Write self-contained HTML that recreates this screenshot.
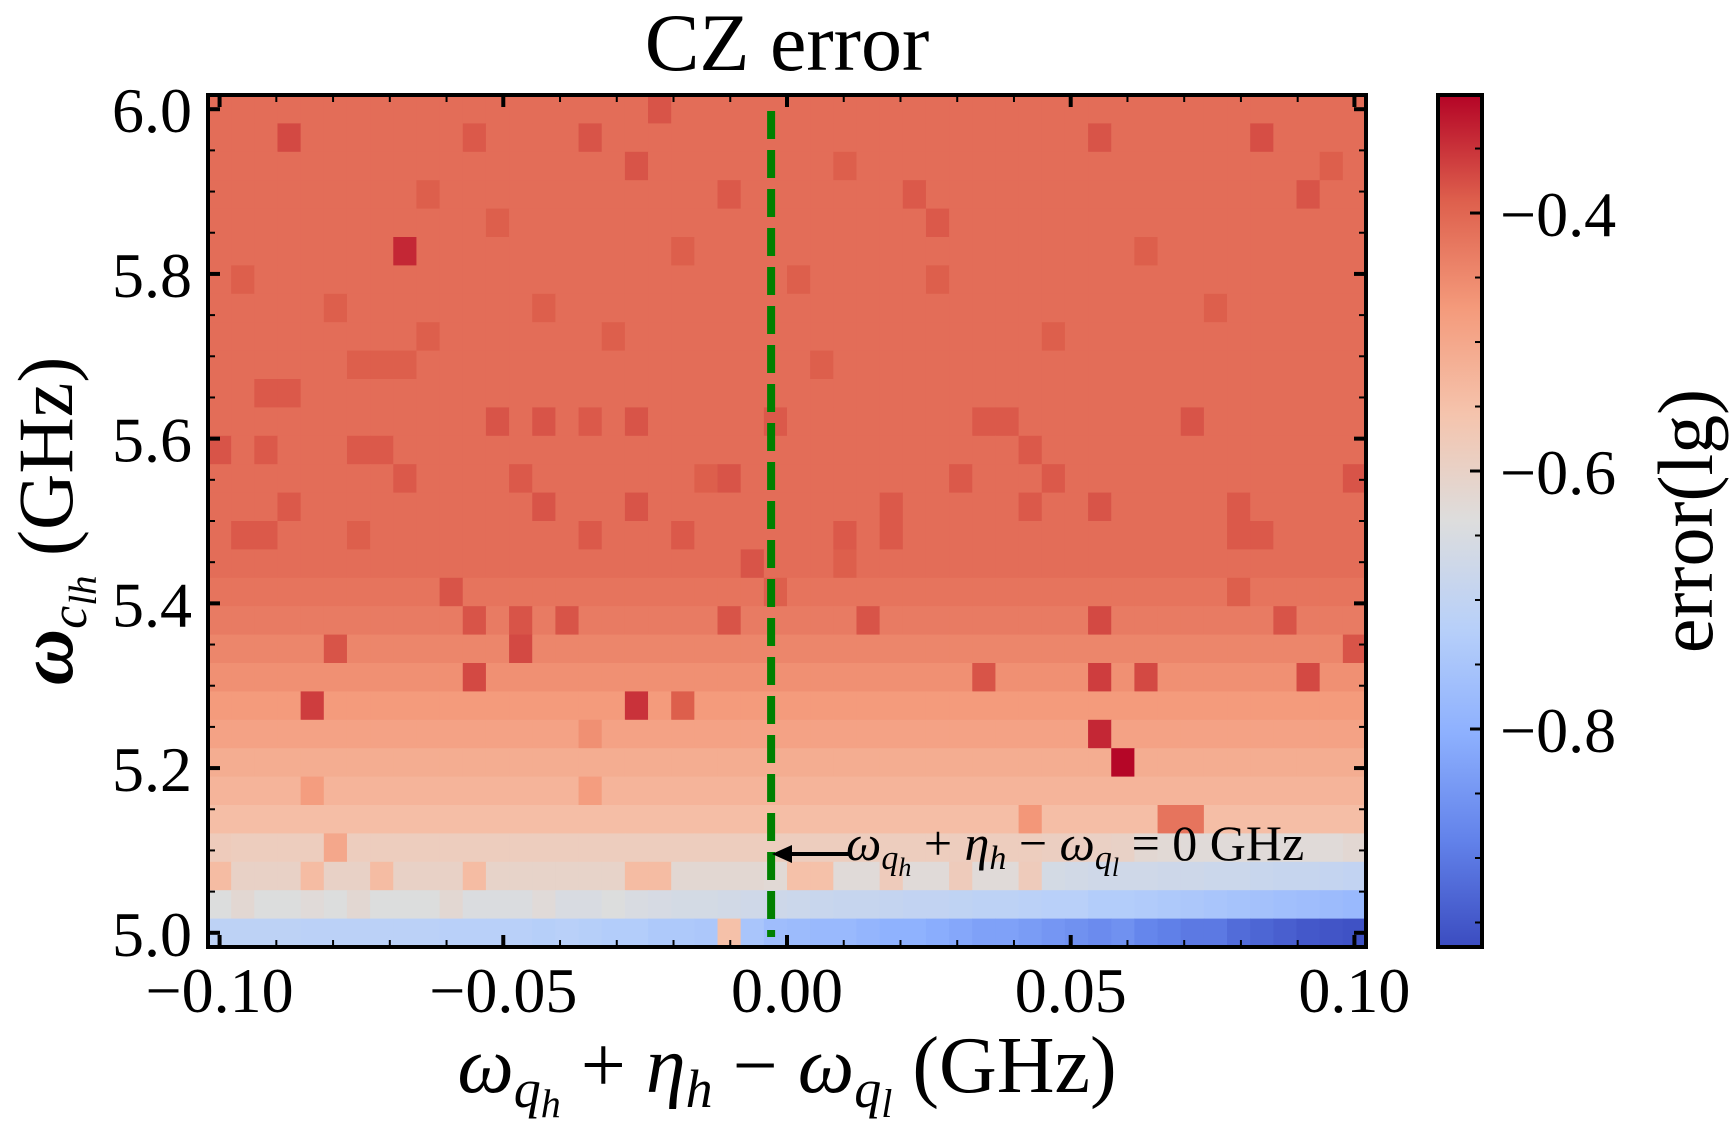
<!DOCTYPE html>
<html><head><meta charset="utf-8">
<style>
html,body{margin:0;padding:0;background:#fff;}
svg{display:block;}
text{font-family:"Liberation Serif","DejaVu Serif",serif;fill:#000;}
</style></head>
<body>
<svg id="chart" width="1729" height="1131" viewBox="0 0 1729 1131" xmlns="http://www.w3.org/2000/svg">
  <defs>
    <linearGradient id="cw" x1="0" y1="1" x2="0" y2="0">
      <stop offset="0" stop-color="rgb(59,76,192)"/>
      <stop offset="0.125" stop-color="rgb(98,130,234)"/>
      <stop offset="0.25" stop-color="rgb(141,176,254)"/>
      <stop offset="0.375" stop-color="rgb(184,208,249)"/>
      <stop offset="0.5" stop-color="rgb(221,221,221)"/>
      <stop offset="0.625" stop-color="rgb(245,196,173)"/>
      <stop offset="0.75" stop-color="rgb(244,154,123)"/>
      <stop offset="0.875" stop-color="rgb(222,96,77)"/>
      <stop offset="1" stop-color="rgb(180,4,38)"/>
    </linearGradient>
  </defs>
  <text x="787" y="70" font-size="82" text-anchor="middle">CZ error</text>
  <g id="cells"></g>
  <g id="overlay"></g>
  <text x="787" y="1092" font-size="80" text-anchor="middle"><tspan font-style="italic">ω</tspan><tspan font-style="italic" font-size="54" dy="15">q</tspan><tspan font-style="italic" font-size="40" dy="10">h</tspan><tspan dy="-25"> + </tspan><tspan font-style="italic">η</tspan><tspan font-style="italic" font-size="54" dy="15">h</tspan><tspan dy="-15"> − </tspan><tspan font-style="italic">ω</tspan><tspan font-style="italic" font-size="54" dy="15">q</tspan><tspan font-style="italic" font-size="40" dy="10">l</tspan><tspan dy="-25"> (GHz)</tspan></text>
  <text transform="translate(72,521) rotate(-90)" font-size="78" text-anchor="middle"><tspan font-style="italic" font-weight="bold">ω</tspan><tspan font-style="italic" font-size="52" dy="14">c</tspan><tspan font-style="italic" font-size="39" dy="10">lh</tspan><tspan dy="-24"> (GHz)</tspan></text>
  <rect x="1438" y="95" width="44" height="852" fill="url(#cw)" stroke="#000" stroke-width="4"/>
  <g id="cbticks"></g>
  <text transform="translate(1712,521) rotate(-90)" font-size="78" text-anchor="middle">error(lg)</text>
</svg>
<script>
// ---- data ----
const xCategories = [];
for (let i = 0; i < 50; i++) xCategories.push(-0.1 + i * 0.2 / 49);
const yCategories = [];
for (let r = 0; r < 30; r++) yCategories.push(6.0 - r / 29);
// per-row base values (rows 0..26, top = 6.0)
const rowBase = [-0.41,-0.41,-0.41,-0.41,-0.41,-0.41,-0.41,-0.41,-0.41,-0.41,
  -0.41,-0.41,-0.41,-0.41,-0.41,-0.41,-0.41,-0.42,-0.43,-0.445,
  -0.46,-0.475,-0.49,-0.51,-0.525,-0.545,-0.585];
const row26 = [-0.58,-0.585,-0.585,-0.585,-0.585,-0.585,-0.585,-0.585,-0.585,-0.585,
  -0.585,-0.585,-0.585,-0.585,-0.585,-0.585,-0.585,-0.585,-0.585,-0.585,
  -0.585,-0.585,-0.585,-0.585,-0.585,-0.585,-0.585,-0.585,-0.585,-0.585,
  -0.585,-0.585,-0.585,-0.585,-0.585,-0.585,-0.59,-0.59,-0.595,-0.6,
  -0.62,-0.625,-0.63,-0.63,-0.63,-0.63,-0.63,-0.63,-0.63,-0.62];
const row27 = [-0.54,-0.60,-0.60,-0.60,-0.54,-0.60,-0.60,-0.54,-0.60,-0.60,
  -0.60,-0.54,-0.605,-0.605,-0.605,-0.605,-0.605,-0.605,-0.54,-0.54,
  -0.62,-0.62,-0.62,-0.62,-0.625,-0.55,-0.55,-0.63,-0.63,-0.58,
  -0.63,-0.63,-0.58,-0.63,-0.63,-0.58,-0.66,-0.665,-0.67,-0.67,
  -0.67,-0.675,-0.675,-0.68,-0.68,-0.685,-0.69,-0.69,-0.695,-0.70];
const row28 = [-0.64,-0.62,-0.64,-0.64,-0.63,-0.64,-0.62,-0.64,-0.64,-0.64,
  -0.62,-0.645,-0.645,-0.645,-0.63,-0.65,-0.65,-0.64,-0.65,-0.655,
  -0.66,-0.66,-0.665,-0.67,-0.675,-0.68,-0.685,-0.69,-0.69,-0.695,
  -0.70,-0.70,-0.705,-0.71,-0.71,-0.715,-0.72,-0.72,-0.73,-0.73,
  -0.735,-0.74,-0.745,-0.75,-0.755,-0.76,-0.765,-0.77,-0.775,-0.78];
const row29 = [-0.71,-0.71,-0.71,-0.71,-0.715,-0.715,-0.715,-0.715,-0.715,-0.715,
  -0.72,-0.72,-0.72,-0.72,-0.725,-0.72,-0.725,-0.73,-0.73,-0.74,
  -0.74,-0.745,-0.55,-0.75,-0.77,-0.775,-0.78,-0.78,-0.79,-0.80,
  -0.80,-0.81,-0.82,-0.83,-0.83,-0.84,-0.85,-0.86,-0.87,-0.86,
  -0.88,-0.89,-0.90,-0.90,-0.92,-0.93,-0.94,-0.95,-0.955,-0.96];
// outlier cells: column index, row index, value
const hotCols = [8,4,18,20,11,13,10,11,13,15,5,22,28,38,38,40,33,47,49,46,44,38,39,41,42,16,4,16,5,35,23,27,
  3,19,11,16,45,38,18,22,30,47,31,0,2,6,7,12,14,16,18,24,33,34,42,35,49,36,32,22,13,8,3,14,18,29,35,38,44,1,2,6,16,20,27,29,44,45,2,3,6,7,8,
  1,5,9,14,25,36,26,12,20,31,43,48,9,27,17,40,21,24];
const hotRows = [5,21,21,21,20,19,17,18,18,18,19,18,18,18,20,20,20,20,19,18,17,22,23,25,25,22,24,24,26,25,16,16,
  1,0,1,1,1,1,2,3,3,3,4,12,12,12,12,11,11,11,11,11,11,11,11,12,13,13,13,13,13,13,14,14,14,14,14,14,14,15,15,15,15,15,15,15,15,15,10,10,9,9,9,
  6,7,8,7,6,8,9,4,5,6,7,2,3,2,8,5,13,17];
const hotVals = [-0.34,-0.36,-0.35,-0.39,-0.37,-0.37,-0.38,-0.38,-0.38,-0.38,-0.38,-0.38,-0.38,-0.37,-0.36,-0.37,-0.38,-0.37,-0.38,-0.38,-0.39,-0.34,-0.31,-0.42,-0.42,-0.46,-0.48,-0.48,-0.5,-0.47,-0.38,-0.39,
  -0.37,-0.38,-0.385,-0.38,-0.375,-0.38,-0.38,-0.385,-0.385,-0.38,-0.385,-0.38,-0.385,-0.385,-0.385,-0.38,-0.38,-0.385,-0.38,-0.385,-0.385,-0.385,-0.38,-0.385,-0.38,-0.385,-0.385,-0.38,-0.385,-0.385,-0.385,-0.38,-0.38,-0.385,-0.385,-0.38,-0.385,-0.385,-0.385,-0.39,-0.385,-0.385,-0.385,-0.385,-0.385,-0.385,-0.385,-0.385,-0.39,-0.39,-0.39,-0.39,-0.39,
  -0.39,-0.39,-0.39,-0.39,-0.39,-0.39,-0.39,-0.39,-0.39,-0.39,-0.39,-0.39,-0.39,-0.39,-0.39,-0.39,-0.4,-0.4];
const xTickValues = [-0.10,-0.05,0.00,0.05,0.10];
const xTickLabels = ["−0.10","−0.05","0.00","0.05","0.10"];
const yTickValues = [5.0,5.2,5.4,5.6,5.8,6.0];
const yTickLabels = ["5.0","5.2","5.4","5.6","5.8","6.0"];
const cbTickValues = [-0.4,-0.6,-0.8];
const cbTickLabels = ["−0.4","−0.6","−0.8"];
const markerLineX = -0.0028;

// ---- layout / scales ----
const PL = 208, PR = 1366, PT = 95, PB = 947;
const colW = (PR - PL) / 50, rowH = (PB - PT) / 30;
const xScale = v => PL + colW / 2 + (v + 0.1) / 0.2 * (PR - PL - colW);
const yScale = v => PT + rowH / 2 + (6.0 - v) / 1.0 * (PB - PT - rowH);
const VMIN = -0.969, VMAX = -0.3085;
const cbScale = v => PB - (v - VMIN) / (VMAX - VMIN) * (PB - PT);
const stops = [[0,59,76,192],[0.125,98,130,234],[0.25,141,176,254],[0.375,184,208,249],[0.5,221,221,221],[0.625,245,196,173],[0.75,244,154,123],[0.875,222,96,77],[1,180,4,38]];
function cmap(v){
  let t = (v - VMIN) / (VMAX - VMIN); t = Math.max(0, Math.min(1, t));
  for (let i = 1; i < stops.length; i++) {
    if (t <= stops[i][0]) {
      const a = stops[i-1], b = stops[i], f = (t - a[0]) / (b[0] - a[0]);
      return `rgb(${Math.round(a[1]+f*(b[1]-a[1]))},${Math.round(a[2]+f*(b[2]-a[2]))},${Math.round(a[3]+f*(b[3]-a[3]))})`;
    }
  }
  return 'rgb(180,4,38)';
}
const NS = 'http://www.w3.org/2000/svg';
function mk(tag, attrs, parent){ const e = document.createElementNS(NS, tag); for (const k in attrs) e.setAttribute(k, attrs[k]); parent.appendChild(e); return e; }

const grid = [];
for (let r = 0; r < 30; r++) {
  const row = [];
  for (let c = 0; c < 50; c++) {
    let v;
    if (r === 29) v = row29[c]; else if (r === 28) v = row28[c]; else if (r === 27) v = row27[c]; else if (r === 26) v = row26[c]; else v = rowBase[r];
    row.push(v);
  }
  grid.push(row);
}
for (let i = 0; i < hotCols.length; i++) grid[hotRows[i]][hotCols[i]] = hotVals[i];

const cells = document.getElementById('cells');
for (let r = 0; r < 30; r++) for (let c = 0; c < 50; c++) {
  const cx = xScale(xCategories[c]), cy = yScale(yCategories[r]);
  const el = mk('rect', {x: (cx - colW/2).toFixed(2), y: (cy - rowH/2).toFixed(2), width: (colW + 0.6).toFixed(2), height: (rowH + 0.6).toFixed(2), fill: cmap(grid[r][c])}, cells);
  
  
}

const ov = document.getElementById('overlay');
const gl = mk('line', {x1: xScale(markerLineX), x2: xScale(markerLineX), y1: 111, y2: 937, stroke: 'rgb(0,128,0)', 'stroke-width': 8, 'stroke-dasharray': '28,11'}, ov);


const fr = mk('rect', {x: PL, y: PT, width: PR - PL, height: PB - PT, fill: 'none', stroke: '#000', 'stroke-width': 4}, ov);


for (let m = -10; m <= 10; m++) {
  const v = m / 100, x = xScale(v), major = (m % 5 === 0);
  const L = major ? 12 : 7, w = major ? 4 : 2;
  const t1 = mk('line', {x1: x, x2: x, y1: PB, y2: PB - L, stroke: '#000', 'stroke-width': w}, ov);
  
  
  const t2 = mk('line', {x1: x, x2: x, y1: PT, y2: PT + L, stroke: '#000', 'stroke-width': w}, ov);
  
  
}
xTickValues.forEach((v, i) => {
  const t = mk('text', {x: xScale(v), y: 1012, 'font-size': 64, 'text-anchor': 'middle'}, ov);
  t.textContent = xTickLabels[i];
  
  
});
for (let m = 0; m <= 20; m++) {
  const v = 5.0 + m * 0.05, y = yScale(v), major = (m % 4 === 0);
  const L = major ? 12 : 7, w = major ? 4 : 2;
  const t1 = mk('line', {x1: PL, x2: PL + L, y1: y, y2: y, stroke: '#000', 'stroke-width': w}, ov);
  
  
  const t2 = mk('line', {x1: PR, x2: PR - L, y1: y, y2: y, stroke: '#000', 'stroke-width': w}, ov);
  
  
}
yTickValues.forEach((v, i) => {
  const t = mk('text', {x: 192, y: yScale(v) + 23, 'font-size': 64, 'text-anchor': 'end'}, ov);
  t.textContent = yTickLabels[i];
  
  
});
const ar = mk('line', {x1: 852, x2: 782, y1: 854, y2: 854, stroke: '#000', 'stroke-width': 4}, ov);


const ah = mk('polygon', {points: '772,854 792,845 792,863', fill: '#000'}, ov);


const at = mk('text', {x: 846, y: 860, 'font-size': 50}, ov);


at.innerHTML = '<tspan font-style="italic">ω</tspan><tspan font-style="italic" font-size="34" dy="9">q</tspan><tspan font-style="italic" font-size="26" dy="7">h</tspan><tspan dy="-16"> + </tspan><tspan font-style="italic">η</tspan><tspan font-style="italic" font-size="34" dy="9">h</tspan><tspan dy="-9"> − </tspan><tspan font-style="italic">ω</tspan><tspan font-style="italic" font-size="34" dy="9">q</tspan><tspan font-style="italic" font-size="26" dy="7">l</tspan><tspan dy="-16"> = 0 GHz</tspan>';

const cbt = document.getElementById('cbticks');
for (let m = 0; m <= 13; m++) {
  const v = -0.95 + m * 0.05; if (v > VMAX) continue;
  const y = cbScale(v), major = Math.abs(Math.round(v * 100) % 20) === 0;
  const L = major ? 12 : 7;
  const t = mk('line', {x1: 1482, x2: 1482 - L, y1: y, y2: y, stroke: '#000', 'stroke-width': major ? 3 : 2}, cbt);
  
  
}
cbTickValues.forEach((v, i) => {
  const t = mk('text', {x: 1500, y: cbScale(v) + 23, 'font-size': 64}, cbt);
  t.textContent = cbTickLabels[i];
  
  
});
</script>
</body></html>
